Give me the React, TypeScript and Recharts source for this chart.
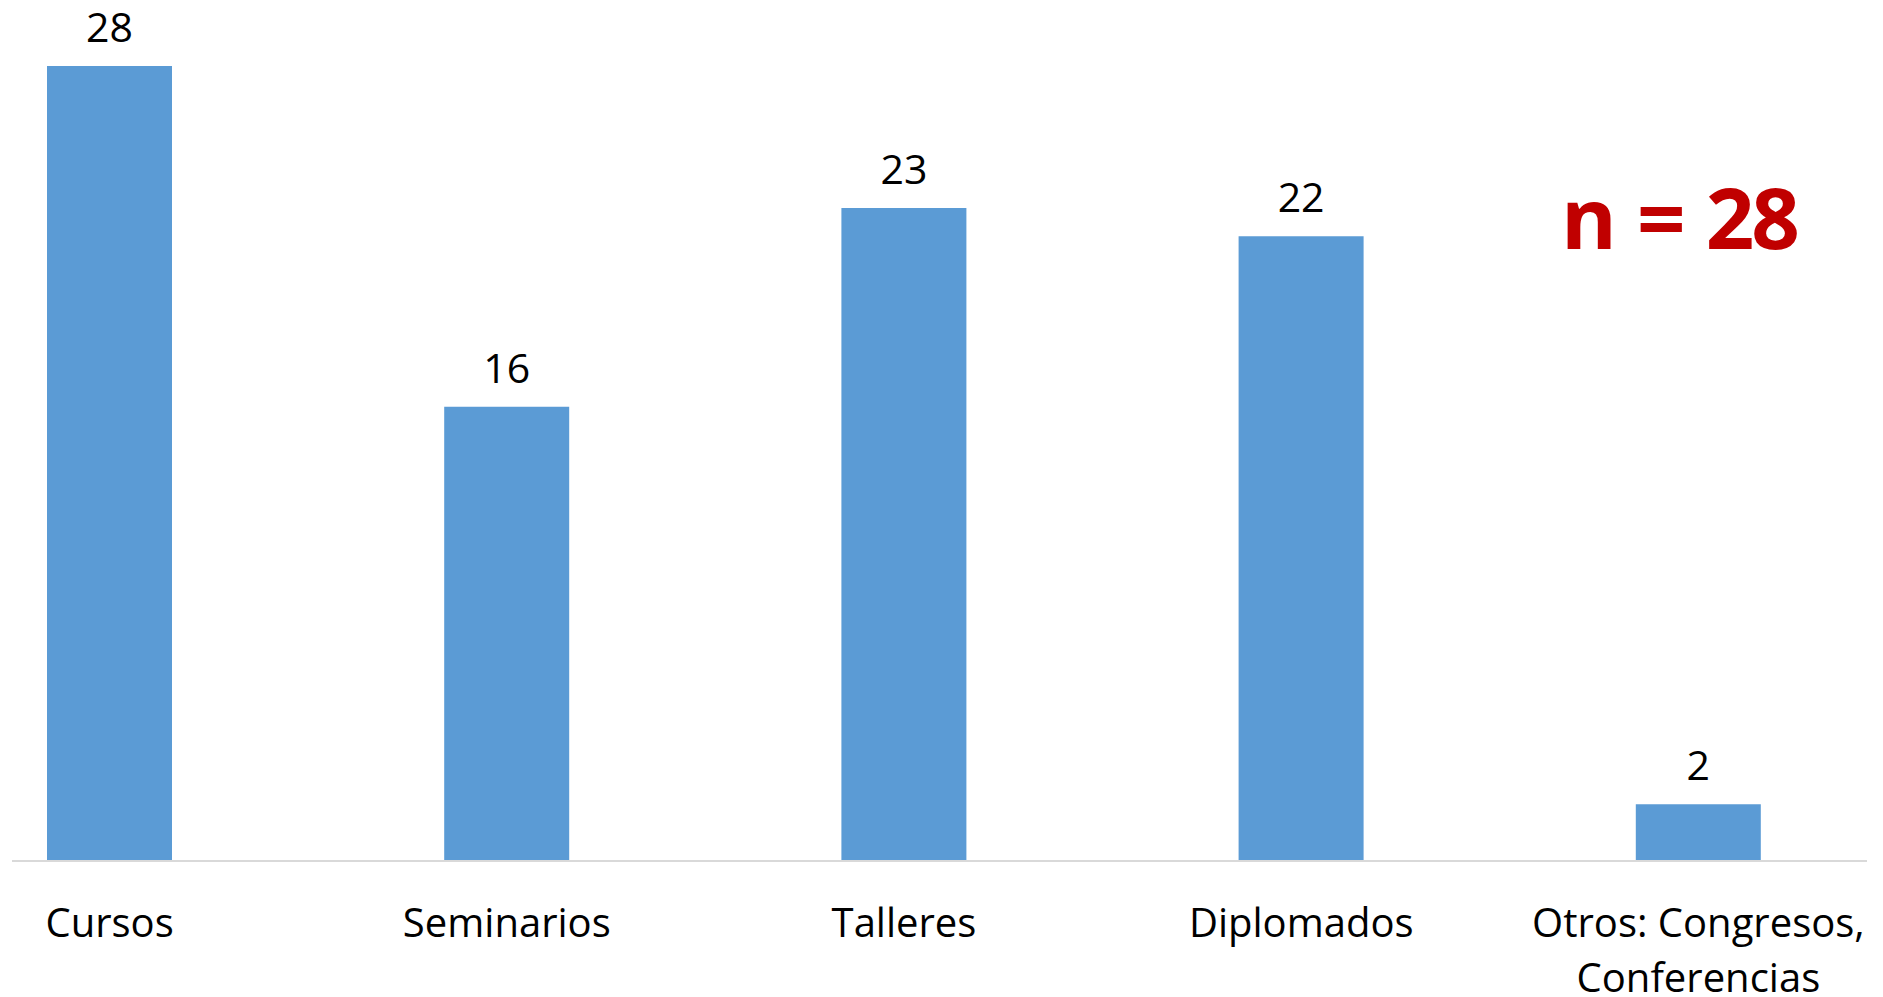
import { BarChart, Bar, XAxis, YAxis, LabelList } from 'recharts';

const categories = ['Cursos', 'Seminarios', 'Talleres', 'Diplomados', 'Otros: Congresos, Conferencias'];
const counts = [28, 16, 23, 22, 2];
const sampleLabel = 'n = 28';

const data = categories.map((name, i) => ({ name, value: counts[i] }));

const FONT = '"Open Sans", sans-serif';

function CategoryTick(props: any) {
  const { x, y, payload } = props;
  const text: string = payload.value;
  const idx = text.indexOf(', ');
  const lines = idx >= 0 ? [text.slice(0, idx + 1), text.slice(idx + 2)] : [text];
  return (
    <text x={x} y={y} textAnchor="middle" fill="#000" fontFamily={FONT} fontSize={40}>
      {lines.map((line, i) => (
        <tspan key={i} x={x} dy={i === 0 ? 76 : 55}>
          {line}
        </tspan>
      ))}
    </text>
  );
}

export default function App() {
  return (
    <div style={{ position: 'absolute', left: 0, top: 0, width: 1883, height: 997, background: '#fff' }}>
      <BarChart
        width={1883}
        height={997}
        data={data}
        margin={{ top: 66, right: 16, left: 12, bottom: 0 }}
      >
        <XAxis
          dataKey="name"
          height={136}
          padding={{ left: -101, right: -30 }}
          axisLine={{ stroke: '#d9d9d9', strokeWidth: 2 }}
          tickLine={false}
          tickSize={0}
          tickMargin={0}
          interval={0}
          tick={<CategoryTick />}
        />
        <YAxis hide domain={[0, 28]} />
        <Bar dataKey="value" fill="#5b9bd5" barSize={125} isAnimationActive={false}>
          <LabelList
            dataKey="value"
            position="top"
            offset={24}
            fill="#000"
            fontFamily={FONT}
            fontSize={41}
          />
        </Bar>
      </BarChart>
      <div
        style={{
          position: 'absolute',
          left: 1561,
          top: 174,
          fontFamily: FONT,
          fontWeight: 700,
          fontSize: 85,
          color: '#c00000',
          lineHeight: 1,
          letterSpacing: -3,
          wordSpacing: 4,
          whiteSpace: 'nowrap',
        }}
      >
        {sampleLabel}
      </div>
    </div>
  );
}
